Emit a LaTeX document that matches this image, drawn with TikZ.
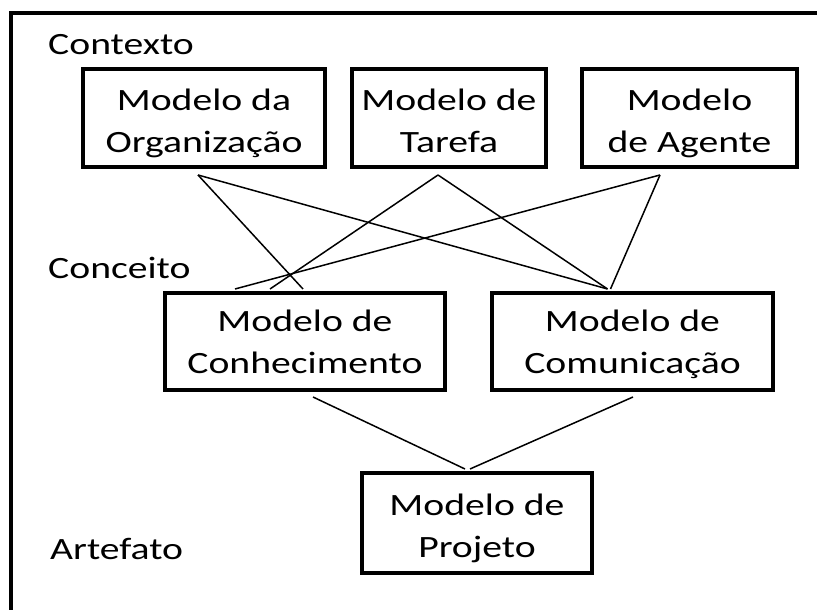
\documentclass[tikz,border=0pt]{standalone}
\usepackage{fontspec}
\setmainfont{Carlito}[FakeStretch=1.28]
\usetikzlibrary{positioning}

\begin{document}
\begin{tikzpicture}[
						x=1pt, y=1pt,
						model/.style = {draw, rectangle, line width=4pt, align=center, inner sep=0pt, minimum height=98pt, text height=78pt, text depth=8pt, font=\fontsize{31}{42}\selectfont},
						level/.style = {anchor=base west, inner sep=0pt, font=\fontsize{31}{42}\selectfont},
						link/.style = {line width=1.5pt}
					]
\useasboundingbox (0,0) rectangle (817,610);
% frame
\draw[line width=4pt] (11,0) -- (11,597) -- (817,597);

\node[level] (contexto) at (48,555) {Contexto};
\node[level] (conceito) at (48,331) {Conceito};
\node[level] (artefato) at (50,50) {Artefato};

\node[model, minimum width=242pt] (org) at (204,492) {Modelo da\\Organização};
\node[model, minimum width=194pt] (tar) at (449,492) {Modelo de\\Tarefa};
\node[model, minimum width=215pt] (age) at (689.5,492) {Modelo\\de Agente};
\node[model, minimum width=280pt, minimum height=97pt, text height=72pt] (conh) at (305,268.5) {Modelo de\\Conhecimento};
\node[model, minimum width=281pt, minimum height=97pt, text height=72pt] (comm) at (632.5,268.5) {Modelo de\\Comunicação};
\node[model, minimum width=230pt, minimum height=100pt] (proj) at (477,87) {Modelo de\\Projeto};

\coordinate (org-b) at ([xshift=-6pt, yshift=-6pt]org.south);
\coordinate (tar-b) at ([xshift=-11pt, yshift=-6pt]tar.south);
\coordinate (age-b) at ([xshift=-29.5pt, yshift=-6pt]age.south);
\coordinate (conh-b) at ([xshift=8pt, yshift=-5pt]conh.south);
\coordinate (comm-b) at ([xshift=0.5pt, yshift=-5pt]comm.south);

\draw[link] (org-b) -- ([xshift=-2pt, yshift=2pt]conh.north);
\draw[link] (org-b) -- ([xshift=-25pt, yshift=2pt]comm.north);
\draw[link] (tar-b) -- ([xshift=-35pt, yshift=2pt]conh.north);
\draw[link] (tar-b) -- ([xshift=-25pt, yshift=2pt]comm.north);
\draw[link] (age-b) -- ([xshift=-70pt, yshift=2pt]conh.north);
\draw[link] (age-b) -- ([xshift=-22pt, yshift=2pt]comm.north);
\draw[link] (conh-b) -- ([xshift=-12pt, yshift=2pt]proj.north);
\draw[link] (comm-b) -- ([xshift=-7pt, yshift=2pt]proj.north);
\end{tikzpicture}
\end{document}
